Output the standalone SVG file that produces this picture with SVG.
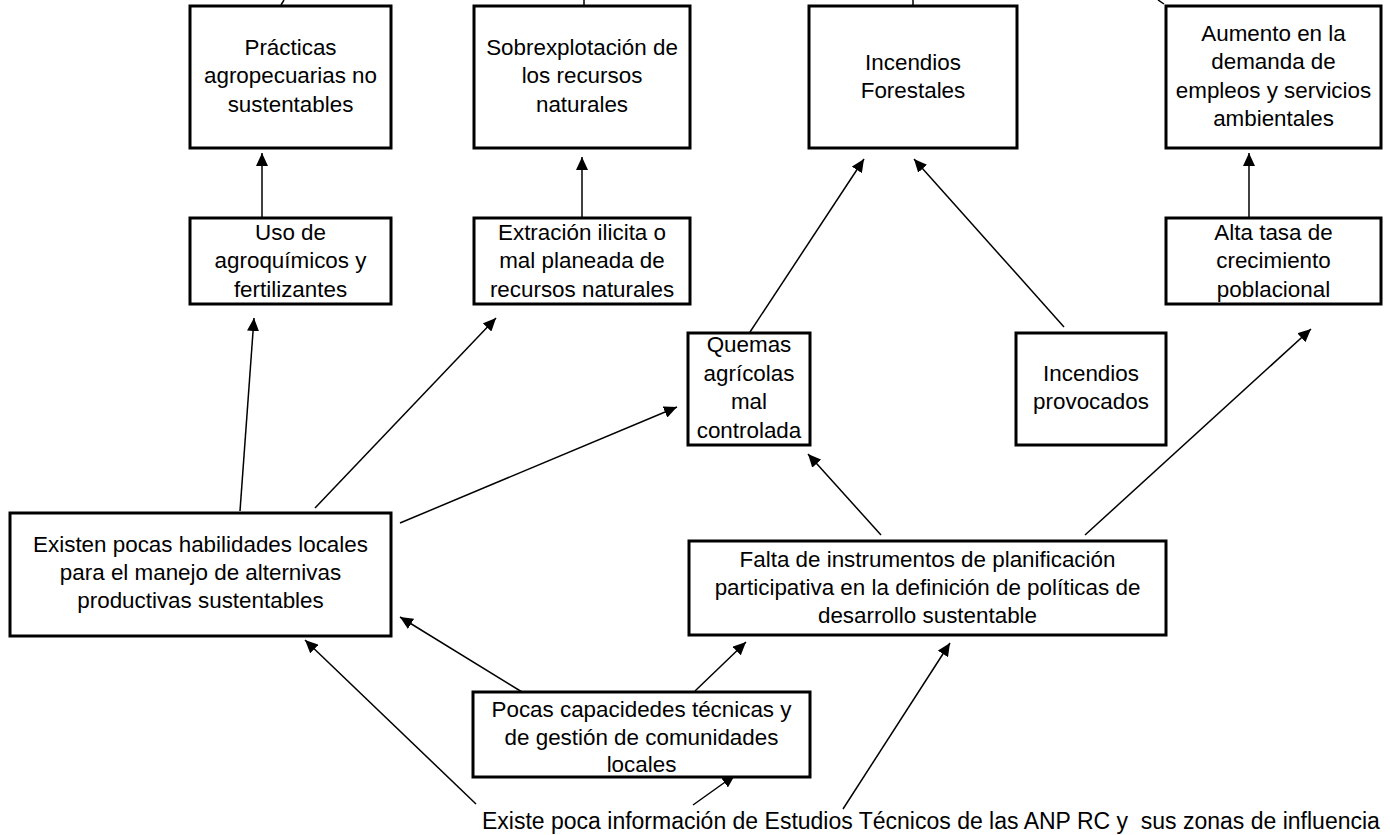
<svg xmlns="http://www.w3.org/2000/svg" width="1390" height="835" viewBox="0 0 1390 835">
<style>
.box{fill:#fff;stroke:#000;stroke-width:3}
.t{font-family:"Liberation Sans",Arial,sans-serif;font-size:22.4px;fill:#000;text-anchor:middle}
.c{stroke:#000;stroke-width:1.5;fill:none}
</style>
<defs>
<marker id="ah" markerUnits="userSpaceOnUse" markerWidth="13" markerHeight="12" refX="13" refY="6" orient="auto">
<path d="M0,0 L13,6 L0,12 z" fill="#000"/>
</marker>
</defs>
<rect width="1390" height="835" fill="#fff"/>
<g id="connectors">
<line class="c" x1="284" y1="0" x2="281" y2="5"/>
<line class="c" x1="584" y1="0" x2="584" y2="5"/>
<line class="c" x1="913" y1="0" x2="913" y2="5"/>
<line class="c" x1="1158" y1="0" x2="1164" y2="4"/>
<line class="c" x1="262" y1="218" x2="262" y2="153" marker-end="url(#ah)"/>
<line class="c" x1="582" y1="218" x2="582" y2="157" marker-end="url(#ah)"/>
<line class="c" x1="1249" y1="218" x2="1249" y2="153" marker-end="url(#ah)"/>
<line class="c" x1="750" y1="332" x2="864" y2="159" marker-end="url(#ah)"/>
<line class="c" x1="1064" y1="327" x2="914" y2="159" marker-end="url(#ah)"/>
<line class="c" x1="240" y1="511" x2="254" y2="318" marker-end="url(#ah)"/>
<line class="c" x1="315" y1="508" x2="496" y2="318" marker-end="url(#ah)"/>
<line class="c" x1="400" y1="523" x2="677" y2="407" marker-end="url(#ah)"/>
<line class="c" x1="881" y1="535" x2="808" y2="454" marker-end="url(#ah)"/>
<line class="c" x1="1085" y1="535" x2="1311" y2="329" marker-end="url(#ah)"/>
<line class="c" x1="522" y1="692" x2="400" y2="617" marker-end="url(#ah)"/>
<line class="c" x1="476" y1="804" x2="305" y2="640" marker-end="url(#ah)"/>
<line class="c" x1="693" y1="805" x2="735" y2="775" marker-end="url(#ah)"/>
<line class="c" x1="695" y1="691" x2="746" y2="642" marker-end="url(#ah)"/>
<line class="c" x1="843" y1="809" x2="950" y2="643" marker-end="url(#ah)"/>
</g>
<g id="practicas">
<rect class="box" x="190" y="6" width="201" height="142"/>
<text class="t" x="290.5" y="55">Prácticas</text>
<text class="t" x="290.5" y="83">agropecuarias no</text>
<text class="t" x="290.5" y="112">sustentables</text>
</g>
<g id="sobrexplotacion">
<rect class="box" x="474" y="6" width="216" height="142"/>
<text class="t" x="582" y="55">Sobrexplotación de</text>
<text class="t" x="582" y="83">los recursos</text>
<text class="t" x="582" y="112">naturales</text>
</g>
<g id="incendios-forestales">
<rect class="box" x="809" y="6" width="208" height="142"/>
<text class="t" x="913" y="70">Incendios</text>
<text class="t" x="913" y="98">Forestales</text>
</g>
<g id="aumento">
<rect class="box" x="1166" y="6" width="215" height="142"/>
<text class="t" x="1273.5" y="41">Aumento en la</text>
<text class="t" x="1273.5" y="69">demanda de</text>
<text class="t" x="1273.5" y="98">empleos y servicios</text>
<text class="t" x="1273.5" y="126">ambientales</text>
</g>
<g id="uso">
<rect class="box" x="190" y="218" width="201" height="86"/>
<text class="t" x="290.5" y="240">Uso de</text>
<text class="t" x="290.5" y="268">agroquímicos y</text>
<text class="t" x="290.5" y="297">fertilizantes</text>
</g>
<g id="extracion">
<rect class="box" x="474" y="218" width="216" height="86"/>
<text class="t" x="582" y="240">Extración ilicita o</text>
<text class="t" x="582" y="268">mal planeada de</text>
<text class="t" x="582" y="297">recursos naturales</text>
</g>
<g id="alta-tasa">
<rect class="box" x="1166" y="218" width="215" height="86"/>
<text class="t" x="1273.5" y="240">Alta tasa de</text>
<text class="t" x="1273.5" y="268">crecimiento</text>
<text class="t" x="1273.5" y="297">poblacional</text>
</g>
<g id="quemas">
<rect class="box" x="688" y="333" width="122" height="112"/>
<text class="t" x="749" y="352">Quemas</text>
<text class="t" x="749" y="381">agrícolas</text>
<text class="t" x="749" y="409">mal</text>
<text class="t" x="749" y="438">controlada</text>
</g>
<g id="incendios-provocados">
<rect class="box" x="1016" y="333" width="150" height="112"/>
<text class="t" x="1091" y="381">Incendios</text>
<text class="t" x="1091" y="409">provocados</text>
</g>
<g id="existen">
<rect class="box" x="10" y="513" width="381" height="123"/>
<text class="t" x="200.5" y="552">Existen pocas habilidades locales</text>
<text class="t" x="200.5" y="580">para el manejo de alternivas</text>
<text class="t" x="200.5" y="608">productivas sustentables</text>
</g>
<g id="falta">
<rect class="box" x="689" y="541" width="477" height="94"/>
<text class="t" x="927.5" y="567">Falta de instrumentos de planificación</text>
<text class="t" x="927.5" y="595">participativa en la definición de políticas de</text>
<text class="t" x="927.5" y="623">desarrollo sustentable</text>
</g>
<g id="pocas">
<rect class="box" x="473" y="692" width="337" height="85"/>
<text class="t" x="641.5" y="717">Pocas capacidedes técnicas y</text>
<text class="t" x="641.5" y="745">de gestión de comunidades</text>
<text class="t" x="641.5" y="772">locales</text>
</g>
<g id="existe-poca">
<text class="t" x="482" y="829" style="text-anchor:start;font-size:23px" xml:space="preserve">Existe poca información de Estudios Técnicos de las ANP RC y  sus zonas de influencia</text>
</g>
</svg>
